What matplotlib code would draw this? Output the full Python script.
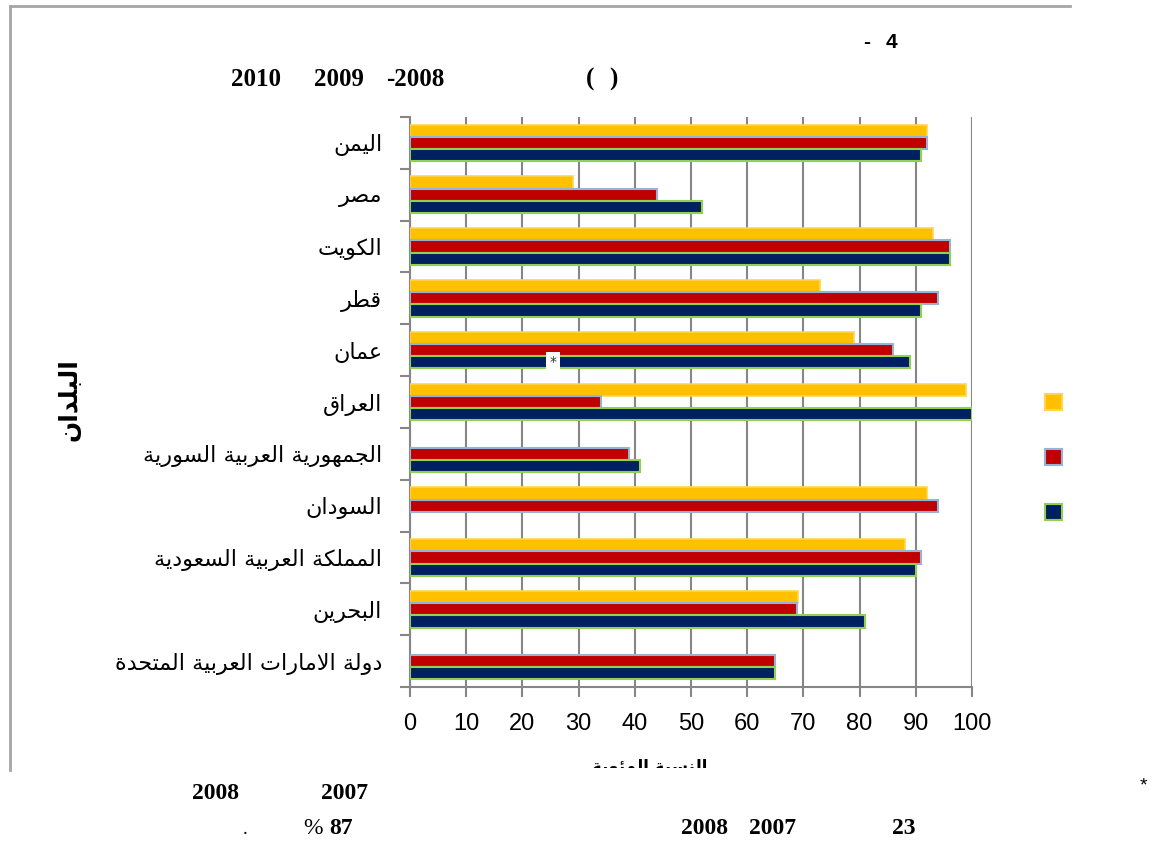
import matplotlib
matplotlib.use("Agg")
import matplotlib.pyplot as plt
from matplotlib.patches import Rectangle
from matplotlib.lines import Line2D
import numpy as np

# ---------------- data ----------------
countries = ["اليمن", "مصر", "الكويت", "قطر", "عمان", "العراق",
             "الجمهورية العربية السورية", "السودان",
             "المملكة العربية السعودية", "البحرين",
             "دولة الامارات العربية المتحدة"]
series_yellow = [92, 29, 93, 73, 79, 99, np.nan, 92, 88, 69, np.nan]
series_red = [92, 44, 96, 94, 86, 34, 39, 94, 91, 68.8, 65]
series_blue = [91, 52, 96, 91, 89, 100, 41, np.nan, 90, 81, 65]
x_ticks = [0, 10, 20, 30, 40, 50, 60, 70, 80, 90, 100]
y_axis_label = "البلدان"
x_axis_label = "النسبة المئوية"

# ---------------- Arabic shaping helper ----------------
FORMS = {  # iso, fin, ini, med
    'ء': (0xFE80, None, None, None),
    'آ': (0xFE81, 0xFE82, None, None),
    'أ': (0xFE83, 0xFE84, None, None),
    'ؤ': (0xFE85, 0xFE86, None, None),
    'إ': (0xFE87, 0xFE88, None, None),
    'ئ': (0xFE89, 0xFE8A, 0xFE8B, 0xFE8C),
    'ا': (0xFE8D, 0xFE8E, None, None),
    'ب': (0xFE8F, 0xFE90, 0xFE91, 0xFE92),
    'ة': (0xFE93, 0xFE94, None, None),
    'ت': (0xFE95, 0xFE96, 0xFE97, 0xFE98),
    'ث': (0xFE99, 0xFE9A, 0xFE9B, 0xFE9C),
    'ج': (0xFE9D, 0xFE9E, 0xFE9F, 0xFEA0),
    'ح': (0xFEA1, 0xFEA2, 0xFEA3, 0xFEA4),
    'خ': (0xFEA5, 0xFEA6, 0xFEA7, 0xFEA8),
    'د': (0xFEA9, 0xFEAA, None, None),
    'ذ': (0xFEAB, 0xFEAC, None, None),
    'ر': (0xFEAD, 0xFEAE, None, None),
    'ز': (0xFEAF, 0xFEB0, None, None),
    'س': (0xFEB1, 0xFEB2, 0xFEB3, 0xFEB4),
    'ش': (0xFEB5, 0xFEB6, 0xFEB7, 0xFEB8),
    'ص': (0xFEB9, 0xFEBA, 0xFEBB, 0xFEBC),
    'ض': (0xFEBD, 0xFEBE, 0xFEBF, 0xFEC0),
    'ط': (0xFEC1, 0xFEC2, 0xFEC3, 0xFEC4),
    'ظ': (0xFEC5, 0xFEC6, 0xFEC7, 0xFEC8),
    'ع': (0xFEC9, 0xFECA, 0xFECB, 0xFECC),
    'غ': (0xFECD, 0xFECE, 0xFECF, 0xFED0),
    'ف': (0xFED1, 0xFED2, 0xFED3, 0xFED4),
    'ق': (0xFED5, 0xFED6, 0xFED7, 0xFED8),
    'ك': (0xFED9, 0xFEDA, 0xFEDB, 0xFEDC),
    'ل': (0xFEDD, 0xFEDE, 0xFEDF, 0xFEE0),
    'م': (0xFEE1, 0xFEE2, 0xFEE3, 0xFEE4),
    'ن': (0xFEE5, 0xFEE6, 0xFEE7, 0xFEE8),
    'ه': (0xFEE9, 0xFEEA, 0xFEEB, 0xFEEC),
    'و': (0xFEED, 0xFEEE, None, None),
    'ى': (0xFEEF, 0xFEF0, None, None),
    'ي': (0xFEF1, 0xFEF2, 0xFEF3, 0xFEF4),
}
LAM_ALEF = {'ا': (0xFEFB, 0xFEFC), 'أ': (0xFEF7, 0xFEF8),
            'إ': (0xFEF9, 0xFEFA), 'آ': (0xFEF5, 0xFEF6)}


def dual(c):
    return c in FORMS and FORMS[c][2] is not None


def shape(text):
    chars = list(text)
    units = []
    i = 0
    while i < len(chars):
        c = chars[i]
        if c == 'ل' and i + 1 < len(chars) and chars[i + 1] in LAM_ALEF:
            units.append(('LA', chars[i + 1]))
            i += 2
        else:
            units.append(('C', c))
            i += 1
    out = []
    for k, (kind, c) in enumerate(units):
        prev = units[k - 1] if k > 0 else None
        nxt = units[k + 1] if k + 1 < len(units) else None
        prev_join = prev is not None and prev[0] == 'C' and dual(prev[1])
        if kind == 'LA':
            iso, fin = LAM_ALEF[c]
            out.append(chr(fin if prev_join else iso))
            continue
        if c not in FORMS:
            out.append(c)
            continue
        iso, fin, ini, med = FORMS[c]
        nxt_join = dual(c) and nxt is not None and (
            (nxt[0] == 'LA') or (nxt[1] in FORMS))
        pj = prev_join and fin is not None
        if pj and nxt_join:
            out.append(chr(med))
        elif pj:
            out.append(chr(fin))
        elif nxt_join:
            out.append(chr(ini))
        else:
            out.append(chr(iso))
    return ''.join(reversed(out))


# ---------------- figure ----------------
W, H = 1159, 843
fig = plt.figure(figsize=(W / 100, H / 100), dpi=100)
fig.patch.set_facecolor('white')


def fx(x):
    return x / W


def fy(y):
    return 1 - y / H


ax = fig.add_axes([fx(410), fy(687), fx(972) - fx(410), (687 - 117) / H])

n = len(countries)
y = np.arange(n)
h = 0.235
ax.barh(y - h, series_yellow, height=h, color='#FFC000', edgecolor='#FFD54F',
        linewidth=1.2, zorder=3)
ax.barh(y, series_red, height=h, color='#C00000', edgecolor='#95B3D7',
        linewidth=1.5, zorder=3)
ax.barh(y + h, series_blue, height=h, color='#002060', edgecolor='#92D050',
        linewidth=1.5, zorder=3)

ax.set_xlim(0, 100)
ax.set_ylim(n - 0.5, -0.5)
ax.set_xticks(x_ticks)
ax.set_xticklabels([str(v) for v in x_ticks], fontsize=17,
                   family=['Liberation Sans', 'DejaVu Sans'])
ax.set_yticks(y)
ax.set_yticklabels([shape(c) for c in countries], fontsize=16,
                   family=['DejaVu Sans'])
ax.set_yticks(np.arange(-0.5, n, 1.0), minor=True)
ax.tick_params(axis='y', which='major', length=0, pad=20)
ax.tick_params(axis='y', which='minor', length=7, color='#868686', width=1.5,
               direction='out')
ax.tick_params(axis='x', which='major', length=7, color='#868686', width=1.5,
               direction='out', pad=12)
ax.grid(axis='x', color='#868686', linewidth=1.5, zorder=0)
ax.set_axisbelow(True)
for s in ['top', 'right']:
    ax.spines[s].set_visible(False)
for s in ['left', 'bottom']:
    ax.spines[s].set_color('#868686')
    ax.spines[s].set_linewidth(1.5)

# star annotation on Oman bar
ax.text(25.5, 4 + h, '*', ha='center', va='center', fontsize=10,
        color='#333333', zorder=5,
        bbox=dict(boxstyle='square,pad=0.25', facecolor='white',
                  edgecolor='none'))

# axis labels
fig.text(fx(70), fy(400), shape(y_axis_label), rotation=90, ha='center',
         va='center', fontsize=18, fontweight='bold', family=['DejaVu Sans'])
fig.text(fx(650), fy(758), shape(x_axis_label), ha='center', va='top',
         fontsize=12, fontweight='bold', family=['DejaVu Sans'])

# cover below chart frame to clip the x label
fig.add_artist(Rectangle((0, 0), 1, fy(768), transform=fig.transFigure,
                         facecolor='white', edgecolor='none', zorder=10))

# chart frame (top and left)
fig.add_artist(Line2D([fx(10), fx(1070)], [fy(6), fy(6)],
                      transform=fig.transFigure, color='#A6A6A6', lw=2,
                      zorder=11))
fig.add_artist(Line2D([fx(10), fx(10)], [fy(6), fy(770)],
                      transform=fig.transFigure, color='#A6A6A6', lw=2,
                      zorder=11))

# legend squares (labels are empty in the source)
leg = [(402, '#FFC000', '#FFD54F'), (457, '#C00000', '#95B3D7'),
       (512, '#002060', '#92D050')]
for yy, fc, ec in leg:
    fig.add_artist(Rectangle((fx(1045), fy(yy + 8)), 17 / W, 16 / H,
                             transform=fig.transFigure, facecolor=fc,
                             edgecolor=ec, lw=1.5, zorder=12))

serif = ['Liberation Serif', 'DejaVu Serif']
sans = ['Liberation Sans', 'DejaVu Sans']


def ftext(x, yv, s, size, bold=True, fam=serif, ha='left'):
    fig.text(fx(x), fy(yv), s, ha=ha, va='center_baseline', fontsize=size,
             fontweight='bold' if bold else 'normal', family=fam, zorder=13)


# title fragments
ftext(863, 41, '-', 15, fam=sans)
ftext(886, 41, '4', 15, fam=sans)
ftext(231, 77, '2010', 18)
ftext(314, 77, '2009', 18)
ftext(386, 77, '-2008', 18)
ftext(586, 77, '(', 18)
ftext(609, 77, ')', 18)

# footnotes
ftext(1143, 784, '*', 14, bold=False, fam=sans, ha='center')
ftext(192, 791, '2008', 17)
ftext(321, 791, '2007', 17)
ftext(243, 828, '.', 14, bold=False)
ftext(303, 826, '%', 17, bold=False)
ftext(329, 826, '87', 17)
ftext(681, 826, '2008', 17)
ftext(749, 826, '2007', 17)
ftext(892, 826, '23', 17)

fig.savefig('out.png', dpi=100, facecolor='white')
